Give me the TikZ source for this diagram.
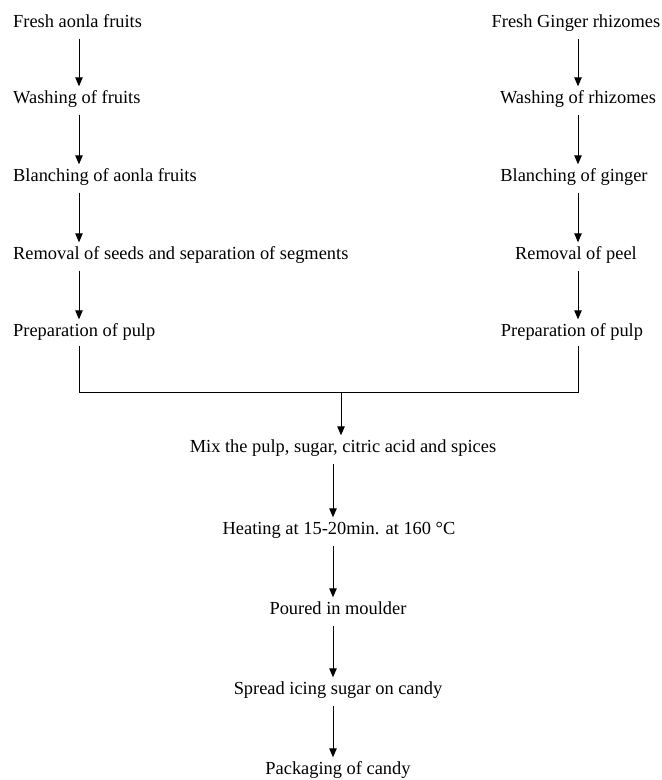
\documentclass[tikz,border=0pt]{standalone}
\usepackage{fontspec}
\setmainfont{Liberation Serif}
\usepackage{tikz}
\usetikzlibrary{
	arrows.meta
}

\begin{document}
\begin{tikzpicture}[x=1pt,y=1pt,
		stage/.style={inner sep=0pt,text height=13pt,text depth=4pt,
			font=\fontsize{18.4}{22}\selectfont},
		flow/.style={-{Triangle[length=9pt,width=7.5pt]},line width=0.9pt,
			shorten <=7pt,shorten >=4pt}]
		
		\useasboundingbox (0,0) rectangle (662,-780);
		
		% Arrow columns
		\coordinate (lx) at (79,0);
		\coordinate (rx) at (578,0);
		\coordinate (cx) at (333,0);
		
		% Aonla
		\node[stage,anchor=west] (a1) at (13,-23) {Fresh aonla fruits};
		\node[stage,anchor=west] (a2) at (13,-99) {Washing of fruits};
		\node[stage,anchor=west] (a3) at (13,-177) {Blanching of aonla fruits};
		\node[stage,anchor=west] (a4) at (13,-255) {Removal of seeds and separation of segments};
		\node[stage,anchor=west] (a5) at (13,-332) {Preparation of pulp};
		
		\draw[flow] (a1.south -| lx) -- (a2.north -| lx);
		\draw[flow] (a2.south -| lx) -- (a3.north -| lx);
		\draw[flow] (a3.south -| lx) -- (a4.north -| lx);
		\draw[flow] (a4.south -| lx) -- (a5.north -| lx);
		
		% Ginger
		\node[stage] (g1) at (576,-23) {Fresh Ginger rhizomes};
		\node[stage] (g2) at (578,-99) {Washing of rhizomes};
		\node[stage] (g3) at (574,-177) {Blanching of ginger};
		\node[stage] (g4) at (576,-255) {Removal of peel};
		\node[stage] (g5) at (572,-332) {Preparation of pulp};
		
		\draw[flow] (g1.south -| rx) -- (g2.north -| rx);
		\draw[flow] (g2.south -| rx) -- (g3.north -| rx);
		\draw[flow] (g3.south -| rx) -- (g4.north -| rx);
		\draw[flow] (g4.south -| rx) -- (g5.north -| rx);
		
		% Joining the two pulps
		\coordinate (join) at (341,-392);
		\draw[line width=0.9pt,shorten <=5pt] (a5.south -| lx) |- (join);
		\draw[line width=0.9pt,shorten <=5pt] (g5.south -| rx) |- (join);
		
		% Candy
		\node[stage] (c1) at (343,-448) {Mix the pulp, sugar, citric acid and spices};
		\node[stage] (c2) at (339,-530) {Heating at 15-20min. at 160 °C};
		\node[stage] (c3) at (338,-610) {Poured in moulder};
		\node[stage] (c4) at (338,-690) {Spread icing sugar on candy};
		\node[stage] (c5) at (338,-770) {Packaging of candy};
		
		\draw[flow,shorten <=0pt] (join) -- (c1.north -| join);
		\draw[flow] (c1.south -| cx) -- (c2.north -| cx);
		\draw[flow] (c2.south -| cx) -- (c3.north -| cx);
		\draw[flow] (c3.south -| cx) -- (c4.north -| cx);
		\draw[flow] (c4.south -| cx) -- (c5.north -| cx);
		
	\end{tikzpicture}
\end{document}
